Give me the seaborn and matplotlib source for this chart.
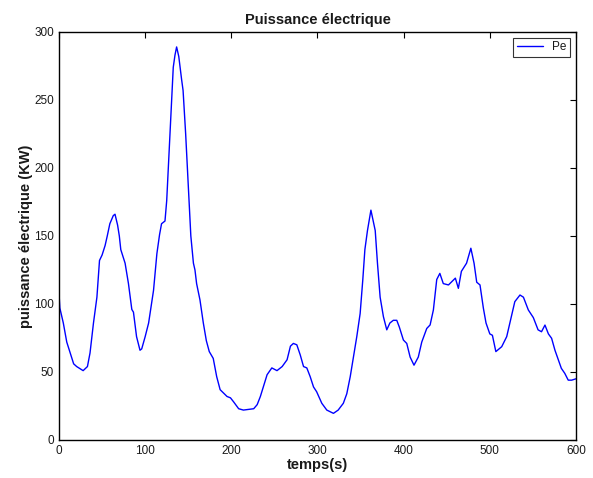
import pandas as pd
import matplotlib
matplotlib.use('Agg')
import matplotlib.pyplot as plt
import seaborn as sns

# temps (s) et puissance (kW)
temps = [0, 1, 5, 9, 13, 17, 20.5, 28, 33, 36, 40, 44, 47, 50, 53.5, 56, 59, 63, 65, 68, 70,
         71.7, 76.7, 80.6, 84.5, 86.4, 90, 94, 96, 100, 104, 109.7, 113.6, 116.7, 119, 123,
         125, 128.8, 132.6, 134.6, 136.5, 139, 142.3, 144, 147, 151, 153, 156, 157.8, 159.7,
         163.6, 167.5, 171, 174.4, 179, 183, 187, 195, 199, 202.7, 208.5, 214, 226, 230,
         233.7, 241.5, 247, 253, 259, 264.7, 268.6, 272, 276, 280, 283.8, 287.6, 291.5,
         295.4, 299, 305, 310.8, 318.5, 324, 330, 334, 338, 341.7, 345.6, 349.5, 352.6,
         355, 358, 362, 367, 369.6, 372.7, 376.5, 380.4, 384, 388, 392, 395, 399.7, 403.6,
         407.5, 412, 417, 421, 426.8, 430.7, 434.5, 438.4, 442, 446, 452, 457.7, 460,
         463.5, 467, 473, 478, 481.7, 484.8, 488.6, 492.5, 495.6, 500, 503, 507, 513.8,
         519.6, 524, 529, 535, 539, 544.7, 550.5, 556, 560, 564, 568, 571.7, 575.6, 579.5,
         583, 587, 591, 595, 600]
puissance = [108, 97, 86, 72, 64, 56, 54, 51, 54, 64, 86, 105, 132, 136, 143, 150, 159, 165, 166,
             158, 150, 140, 130, 115, 96, 94, 76, 66, 67, 76, 86, 110, 137, 151, 159, 161,
             176, 225, 274, 283, 289, 282, 265, 257, 225, 176, 150, 130, 125, 115, 103, 86,
             73, 65, 60, 46.6, 37, 32, 31, 28, 23, 22, 23, 26, 32, 48, 53, 51, 54, 59, 69,
             71, 70, 62.5, 54, 53, 46.6, 39, 35.5, 27, 22, 19.6, 22, 27, 34, 46.6, 61, 76,
             93, 118, 140, 154, 169, 154, 130, 105, 90.7, 81, 86, 88, 88, 83, 73.5, 71, 61,
             55, 61, 72, 82, 84.6, 95.6, 118, 122.5, 115, 114, 117.6, 119, 111.5, 124, 130,
             141, 130, 116, 114, 97, 86, 78, 77, 65, 68.6, 76, 88, 101.7, 106.6, 105, 95.6,
             90, 81, 79.6, 84.5, 78, 74.8, 66, 59, 52.7, 49, 44, 44, 45]

df = pd.DataFrame({'temps': temps, 'Pe': puissance})

sns.set_style('white')
plt.rcParams['font.family'] = ['Liberation Sans', 'DejaVu Sans']
plt.rcParams['text.color'] = '#1a1a1a'
plt.rcParams['axes.labelcolor'] = '#1a1a1a'

fig = plt.figure(figsize=(5.93, 4.78), dpi=100)
ax = fig.add_axes([0.0995, 0.0795, 0.8718, 0.8536])
sns.lineplot(data=df, x='temps', y='Pe', color='#0000ff', linewidth=1, label='Pe', ax=ax)

ax.set_xlim(0, 600)
ax.set_ylim(0, 300)
ax.set_xticks(range(0, 601, 100))
ax.set_yticks(range(0, 301, 50))
ax.tick_params(direction='in', top=True, right=True, length=4, width=0.8,
               labelsize=8.5, colors='black', labelcolor='#1a1a1a')
for s in ax.spines.values():
    s.set_color('black')
    s.set_linewidth(1)

ax.set_title('Puissance électrique', fontsize=10.5, fontweight='bold', pad=6)
ax.set_xlabel('temps(s)', fontsize=10.5, fontweight='bold', labelpad=1)
ax.set_ylabel('puissance électrique (KW)', fontsize=10.5, fontweight='bold', labelpad=1)

leg = ax.legend(loc='upper right', fontsize=8.5, frameon=True, fancybox=False,
                borderaxespad=0.5, handlelength=2.2, borderpad=0.3)
leg.get_frame().set_edgecolor('black')
leg.get_frame().set_linewidth(0.8)

fig.savefig('out.png', dpi=100)
